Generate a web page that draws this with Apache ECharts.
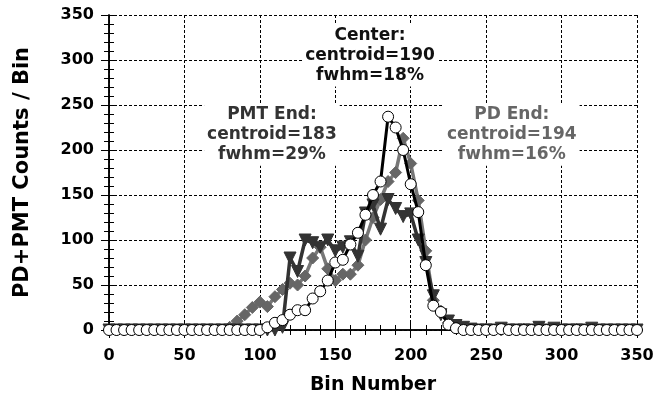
<!DOCTYPE html>
<html>
<head>
<meta charset="utf-8">
<script src="https://cdn.jsdelivr.net/npm/echarts@6/dist/echarts.min.js"></script>
<style>
  html, body { margin: 0; padding: 0; background: #fff; }
  #chart { width: 657px; height: 401px; }
</style>
</head>
<body>
<div id="chart"></div>
<script>
// bin positions (x) shared by the three runs
const bins = [0,5,10,15,20,25,30,35,40,45,50,55,60,65,70,75,80,85,90,95,
  100,105,110,115,120,125,130,135,140,145,150,155,160,165,170,175,180,185,190,195,
  200,205,210,215,220,225,230,235,240,245,250,255,260,265,270,275,280,285,290,295,
  300,305,310,315,320,325,330,335,340,345,350];

// source at the center (circles)
const centerCounts = [0,0,0,0,0,0,0,0,0,0,0,0,0,0,0,0,0,0,0,0,
  0,3,8,11,17,22,22,35,43,55,75,78,95,108,128,150,165,237,225,200,
  162,131,72,27,20,6,2,0,0,0,0,0,1,0,0,0,0,0,0,0,
  0,0,0,0,0,0,0,0,0,0,0];

// source at the PD end (diamonds)
const pdCounts = [0,0,0,0,0,0,0,0,0,0,0,0,0,0,0,0,3,10,17,25,
  31,26,37,45,52,50,60,80,92,68,55,62,62,72,100,125,145,165,175,213,
  185,144,88,33,21,8,3,0,0,0,1,0,0,0,0,1,0,0,0,0,
  0,0,1,0,0,0,0,0,0,0,0];

// source at the PMT end (triangles)
const pmtCounts = [0,0,0,0,0,0,0,0,0,0,0,0,0,0,0,0,0,0,0,0,
  0,0,0,3,80,65,100,97,92,100,88,92,98,82,130,139,112,145,135,126,
  129,100,75,38,17,10,5,3,1,0,0,0,2,0,0,0,0,3,0,2,
  0,0,0,0,2,0,0,0,0,0,0];

const notes = [
  { lines: ['Center:', 'centroid=190', 'fwhm=18%'], at: [173, 305], color: '#111' },
  { lines: ['PMT End:', 'centroid=183', 'fwhm=29%'], at: [108, 217], color: '#333' },
  { lines: ['PD End:', 'centroid=194', 'fwhm=16%'], at: [267, 217], color: '#666' }
];

const pairs = vals => bins.map((b, i) => [b, vals[i]]);

const font = '"DejaVu Sans", Arial, sans-serif';
const chart = echarts.init(document.getElementById('chart'), null, { renderer: 'canvas' });

const baseAxis = {
  type: 'value', min: 0, max: 350, interval: 50,
  axisLine: { show: true, lineStyle: { color: '#000', width: 1.5 } },
  axisTick: { show: true, inside: true, length: 8, lineStyle: { color: '#000', width: 1 } },
  minorTick: { show: true, splitNumber: 5, length: 5, lineStyle: { color: '#000', width: 1 } },
  axisLabel: { show: true, color: '#000', fontWeight: 'bold', fontSize: 16, fontFamily: font, margin: 18 },
  splitLine: { show: true, lineStyle: { color: '#000', type: [3, 2], width: 1 } }
};

function mirror(pos) {
  return Object.assign({}, baseAxis, {
    position: pos,
    axisLabel: { show: false },
    splitLine: { show: false }
  });
}

chart.setOption({
  animation: false,
  backgroundColor: '#fff',
  grid: { left: 109, right: 20, top: 15, bottom: 71, outerBoundsMode: 'none', containLabel: false },
  xAxis: [
    Object.assign({}, baseAxis, {
      position: 'bottom',
      name: 'Bin Number', nameLocation: 'middle', nameGap: 46,
      nameTextStyle: { color: '#000', fontWeight: 'bold', fontSize: 19, fontFamily: font }
    }),
    mirror('top')
  ],
  yAxis: [
    Object.assign({}, baseAxis, {
      position: 'left',
      name: 'PD+PMT Counts / Bin', nameLocation: 'middle', nameGap: 76,
      nameTextStyle: { color: '#000', fontWeight: 'bold', fontSize: 21, fontFamily: font },
      axisLabel: Object.assign({}, baseAxis.axisLabel, { margin: 15 })
    }),
    mirror('right')
  ],
  series: [
    {
      name: 'PD End', type: 'line', data: pairs(pdCounts), z: 3,
      symbol: 'diamond', symbolSize: 12,
      lineStyle: { color: '#777', width: 3.5 },
      itemStyle: { color: '#666', borderColor: '#666', borderWidth: 1 }
    },
    {
      name: 'PMT End', type: 'line', data: pairs(pmtCounts), z: 4,
      symbol: 'triangle', symbolRotate: 180, symbolSize: 12,
      lineStyle: { color: '#333', width: 3.5 },
      itemStyle: { color: '#333', borderColor: '#333', borderWidth: 1 }
    },
    {
      name: 'Center', type: 'line', data: pairs(centerCounts), z: 5,
      symbol: 'circle', symbolSize: 11,
      lineStyle: { color: '#000', width: 3 },
      itemStyle: { color: '#fff', borderColor: '#000', borderWidth: 1 },
      markPoint: {
        symbol: 'rect', symbolSize: 0, silent: true,
        data: notes.map(n => ({
          coord: n.at,
          label: {
            show: true, position: 'inside',
            formatter: n.lines.join('\n'),
            color: n.color, fontWeight: 'bold', fontSize: 17, lineHeight: 20,
            fontFamily: font, align: 'center', verticalAlign: 'middle',
            backgroundColor: '#fff', padding: [1, 3]
          }
        }))
      }
    }
  ]
});
</script>
</body>
</html>
